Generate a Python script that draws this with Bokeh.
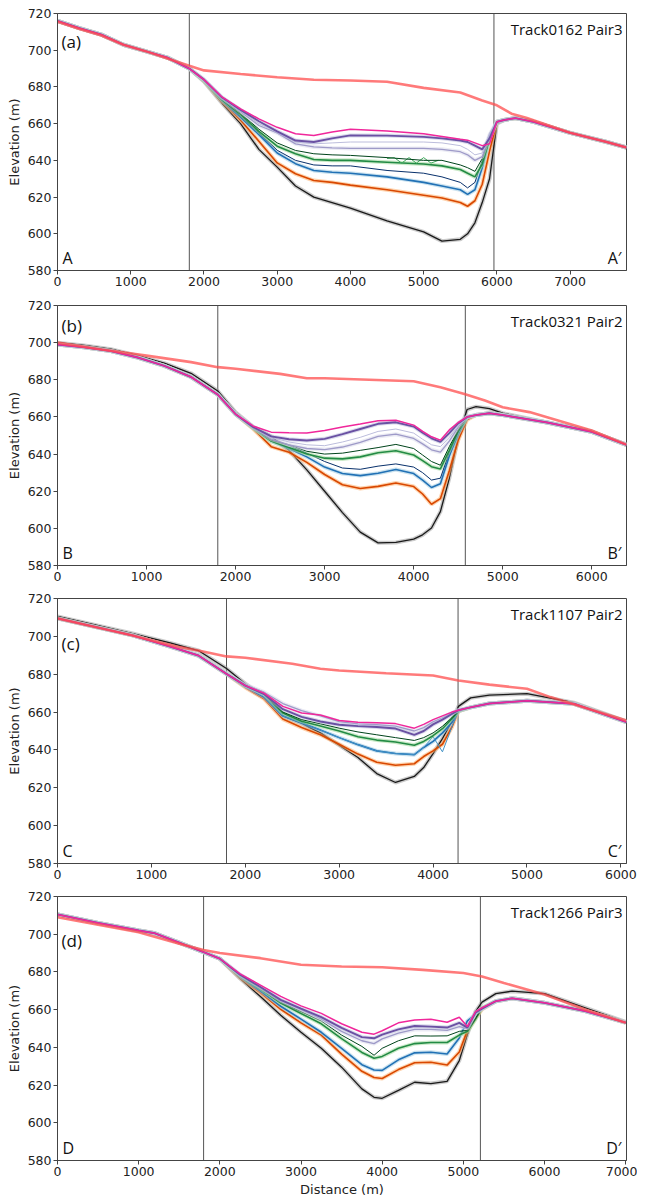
from bokeh.plotting import figure
from bokeh.layouts import column
from bokeh.models import Label, Span, FixedTicker, Range1d
from bokeh.embed import file_html
from bokeh.resources import INLINE

# ---------------- DATA ----------------
Y_TICKS = [580, 600, 620, 640, 660, 680, 700, 720]

# Panel (a) Track0162 Pair3
A_TITLE = "Track0162 Pair3"
A_XEND = 7770
A_XTICKS = [0, 1000, 2000, 3000, 4000, 5000, 6000, 7000]
A_VLINES = [1800, 5960]
A_LEFT_X = [0, 300, 600, 900, 1200, 1500, 1800]
A_LEFT_Y = [716, 712, 708.5, 703, 699.5, 696, 690]
A_VAL_X = [2000, 2250, 2500, 2750, 3000, 3250, 3500, 3750, 4000, 4500, 5000, 5250, 5500, 5600, 5700, 5800, 5900, 6000]
A_BLACK = [683, 671, 660, 646, 636.3, 626, 620, 617, 614, 607, 601, 596, 597, 600, 606, 617, 630, 660]
A_ORANGE = [683.5, 672, 662, 650.4, 638.6, 632.7, 629, 628, 626.5, 624, 621, 619.5, 617, 615, 618, 627, 645, 661]
A_BLUE = [683.5, 672.5, 663.5, 654, 644, 638.2, 634.5, 633.5, 633, 631, 628, 626, 624, 621.5, 624, 636, 652, 661]
A_NAVY = [683.5, 673, 664, 655, 645.5, 640, 637.5, 637, 637, 634.5, 633, 631, 628, 625, 628, 640, 654, 661]
A_GREEN = [683.5, 673, 665, 655.8, 647.7, 643.6, 640.5, 640, 640, 639, 638, 637, 635, 633, 631, 638, 652, 661]
A_DKGREEN = [683.5, 673.5, 665.5, 657, 649.5, 645.4, 643.6, 643, 642.7, 641.5, 640, 640, 637.5, 636, 634, 641, 653, 661]
A_LAV = [684, 674, 666.5, 659, 655, 649, 647.3, 646.8, 646.5, 646.5, 646.5, 646, 644.7, 643, 640, 642, 654, 661]
A_LAV2 = [684, 674, 667, 660, 655.5, 650, 649, 649.5, 650, 650, 650, 649.5, 648, 646, 643, 644, 655, 661]
A_PURPLE = [684, 674.2, 667.5, 661.3, 655.8, 650.8, 650, 652, 653.6, 653.5, 652.8, 652, 650.8, 650, 648, 646, 652, 661]
A_MAGENTA = [684, 674.4, 668, 662.6, 658, 654.5, 653.6, 655.5, 657, 656, 654.5, 653, 651.5, 651, 649.5, 648, 649, 661]
A_RIGHT_X = [6100, 6250, 6500, 7000, 7500, 7770]
A_RIGHT_Y = [662, 663, 661, 655, 650, 647]
A_ZIG_X = [4500, 4600, 4700, 4800, 4900, 5000, 5100, 5200]
A_ZIG_Y = [641, 641.5, 638.5, 641.5, 638.5, 641.5, 638.5, 640]
A_RED_X = [0, 300, 600, 900, 1200, 1500, 1800, 2000, 2500, 3000, 3500, 4000, 4500, 5000, 5500, 5800, 6000, 6200, 6400, 7000, 7500, 7770]
A_RED_Y = [715.5, 711.5, 708, 703, 699.5, 695.5, 691.5, 689, 687, 685.3, 683.9, 683.5, 682.8, 679.5, 677, 672.6, 670, 665.4, 663.2, 655, 650, 647]

# Panel (b) Track0321 Pair2
B_TITLE = "Track0321 Pair2"
B_XEND = 6390
B_XTICKS = [0, 1000, 2000, 3000, 4000, 5000, 6000]
B_VLINES = [1800, 4580]
B_LEFT_X = [0, 300, 600, 900, 1200, 1500, 1800]
B_LEFT_Y = [699, 697.5, 695.5, 692, 687.5, 681.5, 672]
B_LEFT_BLACK_Y = [700, 698.5, 696.5, 693, 689, 683.5, 674]
B_VAL_X = [2000, 2200, 2400, 2600, 2800, 3000, 3200, 3400, 3600, 3800, 4000, 4100, 4200, 4300, 4400, 4500, 4600]
B_BLACK = [662.5, 654.5, 649.5, 642, 631.5, 620, 608.5, 598, 592.2, 592.4, 594.2, 596.5, 600.2, 609, 627, 649, 664]
B_ORANGE = [661.5, 653.5, 644, 641, 635.5, 629, 623.5, 621.5, 622.6, 624.4, 622.5, 618.5, 613, 616, 631, 647.5, 658.5]
B_BLUE = [661.5, 654, 647, 643, 638.5, 633, 629.5, 628.4, 629.7, 631.7, 629.5, 626, 622, 624, 639, 651, 659.5]
B_NAVY = [661.5, 654, 647.5, 644.5, 640.5, 636, 632.5, 631.8, 633.5, 634.7, 633, 630, 626, 627, 641, 652, 659.5]
B_GREEN = [661.5, 654, 647, 643.5, 640, 637.8, 637.4, 638.5, 640.7, 641.8, 639.5, 636.5, 633.2, 632, 642, 652.5, 659.8]
B_DKGREEN = [661.5, 654, 647.5, 645, 641.5, 640, 640.5, 642, 643.5, 645.2, 643, 639.5, 636, 634, 644, 653, 660]
B_LAV = [661.5, 654.5, 648, 645, 643, 642.4, 643.8, 646.3, 649.5, 650.7, 648.4, 645.5, 642.3, 641, 647, 654.5, 660]
B_LAV2 = [661.5, 654.5, 649, 646.5, 645, 644.5, 646.5, 649, 652.2, 653.5, 651.3, 648, 645, 644, 649, 655, 660]
B_PURPLE = [661.5, 654.5, 649.5, 648, 647.3, 648.2, 650.7, 653.5, 656.3, 657.1, 654.8, 651.5, 648.5, 646.6, 651.3, 656.5, 660]
B_MAGENTA = [661.5, 655, 651.8, 651.5, 651.3, 652.7, 654.6, 656.2, 658, 658.2, 655.6, 652.2, 649.3, 647.5, 653, 657, 660]
B_RIGHT_X = [4700, 4850, 5000, 5500, 6000, 6390]
B_RIGHT_Y = [661, 662, 661, 657, 652, 645]
B_RIGHT_BLACK_Y = [665.5, 664.5, 662, 657, 652, 645]
B_RED_X = [0, 500, 1000, 1500, 1800, 2000, 2500, 2800, 3000, 3500, 4000, 4300, 4570, 4800, 5000, 5300, 6000, 6390]
B_RED_Y = [700, 696.3, 693, 689.5, 686.8, 685.9, 683.2, 680.8, 680.8, 680, 679.2, 676, 672.4, 668.8, 665.2, 662.6, 652.7, 645.1]

# Panel (c) Track1107 Pair2
C_TITLE = "Track1107 Pair2"
C_XEND = 6060
C_XTICKS = [0, 1000, 2000, 3000, 4000, 5000, 6000]
C_VLINES = [1800, 4266]
C_LEFT_X = [0, 400, 800, 1200, 1500, 1800]
C_LEFT_Y = [709.5, 705, 700.5, 694.6, 689.9, 680.2]
C_LEFT_BLACK_Y = [710.5, 706, 701.5, 696.5, 692.5, 683]
C_VAL_X = [2000, 2200, 2400, 2600, 2800, 3000, 3200, 3400, 3600, 3800, 3900, 4000, 4100, 4200, 4270]
C_BLACK = [675, 668, 657.8, 654, 649, 642.5, 636, 627.5, 622.8, 626, 630.7, 638, 646, 655, 663]
C_ORANGE = [673, 667, 656.3, 651.8, 648, 643, 637.8, 633.5, 631.9, 632.7, 636.5, 639.5, 643, 652, 660.5]
C_BLUE = [673.5, 668, 658, 654.3, 650.5, 646.5, 642.8, 639.5, 638.1, 637.5, 641.3, 644.5, 649, 654.5, 660.5]
C_BLUE2 = [673.5, 668, 658, 654.3, 650.5, 646.5, 642.8, 639.5, 638.1, 637.5, 641.3, 647, 639, 652, 660.8]
C_GREEN = [674, 669.5, 659.5, 655.2, 652.6, 650, 647, 645.2, 644.2, 642.5, 644.5, 647.5, 651.2, 656.5, 660.5]
C_DKGREEN = [674, 669.5, 660, 656, 653.8, 651.5, 649.5, 648, 646.5, 645, 646.5, 649, 652.5, 657, 660.5]
C_PURPLE = [674, 669.5, 661.5, 657.5, 655, 653.3, 652.6, 652.1, 651.3, 648, 650, 653.5, 656, 659, 661]
C_LAV = [674.5, 670.5, 664.5, 660.8, 658, 655, 653.8, 653.3, 652.6, 650, 651.8, 654.8, 657, 659.5, 661]
C_MAGENTA = [674, 670, 663, 659.5, 658.5, 655.5, 654.6, 654.3, 653.9, 651.5, 653.5, 656, 658, 660, 661]
C_RIGHT_X = [4400, 4600, 5000, 5500, 6060]
C_RIGHT_Y = [662.5, 664.5, 666, 664.4, 654.7]
C_RIGHT_BLACK_Y = [667.5, 669, 669.7, 665, 655]
C_RED_X = [0, 400, 800, 1300, 1500, 1800, 2000, 2500, 2800, 3000, 3500, 4000, 4270, 4600, 5000, 5250, 5600, 6060]
C_RED_Y = [709.5, 705, 700.5, 694.3, 692.5, 689.4, 688.7, 685.5, 682.9, 682, 680.5, 679.3, 676.7, 674.5, 672.3, 667.9, 662.6, 655.6]

# Panel (d) Track1266 Pair3
D_TITLE = "Track1266 Pair3"
D_XEND = 7010
D_XTICKS = [0, 1000, 2000, 3000, 4000, 5000, 6000, 7000]
D_VLINES = [1800, 5210]
D_LEFT_X = [0, 500, 1000, 1200, 1500, 1800, 2000]
D_LEFT_Y = [710.5, 706, 702, 700.5, 695.5, 690.5, 687]
D_VAL_X = [2250, 2500, 2750, 3000, 3250, 3500, 3750, 3900, 4000, 4200, 4400, 4600, 4800, 4950, 5050, 5150, 5230]
D_BLACK = [676.5, 667, 657, 648, 639.5, 629.5, 618, 613.5, 613, 617.2, 621.5, 620.8, 622, 633, 647, 659, 664]
D_ORANGE = [677, 669, 660.2, 653, 646.5, 636.4, 627.3, 624, 623.5, 628.2, 631.8, 632.1, 630.6, 637.5, 649, 655.5, 660.2]
D_BLUE = [677.5, 670, 661.8, 655, 648, 639.5, 630.8, 628, 627.8, 633.4, 637.1, 637.4, 636.5, 645, 654, 657.5, 660.5]
D_GREEN = [678, 671, 663.5, 658, 652.5, 644.6, 637.3, 634.2, 635.2, 639.5, 642, 642.6, 642.6, 646.5, 648.5, 655, 661]
D_DKGREEN = [678, 671.5, 664, 659, 654, 646.5, 640.5, 635.8, 639.5, 643.5, 646.1, 646, 646.1, 648.5, 649, 655.5, 661]
D_LAV = [678.5, 671.8, 664.8, 660, 655, 648.5, 643.5, 642, 644.5, 647.5, 649.5, 649.5, 649, 651, 650, 658, 660.5]
D_PURPLE = [678.5, 672, 665.2, 660.5, 656, 650.3, 645.4, 644.8, 646.8, 649.5, 651.3, 651, 650.5, 653, 650.5, 658.5, 660.5]
D_MAGENTA = [679, 673, 667, 662, 658, 652.5, 648, 647, 648.8, 653, 654.5, 654.9, 653.3, 656, 651, 659, 661]
D_RIGHT_X = [5400, 5600, 6000, 6500, 7000]
D_RIGHT_Y = [664.5, 666, 663.6, 659.3, 653.1]
D_RIGHT_BLACK_Y = [668.5, 669.8, 668.5, 661, 653.5]
D_RED_X = [0, 500, 1000, 1500, 1800, 2000, 2500, 3000, 3500, 4000, 4500, 5000, 5230, 5500, 6000, 6500, 7000]
D_RED_Y = [709, 705, 701, 695, 691.6, 690, 687.3, 683.8, 682.9, 682.5, 681.1, 679.4, 677.6, 674.1, 668, 660.1, 653.1]

# ---------------- STYLE ----------------
STYLE = {
    "black":   ("#1a1a1a", "#a0a0a0", 1.3),
    "orange":  ("#d94801", "#fdae6b", 1.6),
    "blue":    ("#2171b5", "#9ecae1", 1.6),
    "navy":    ("#08306b", None, 1.0),
    "blue2":   ("#4292c6", None, 1.0),
    "green":   ("#238b45", "#a1d99b", 1.6),
    "dkgreen": ("#00441b", None, 1.0),
    "lav":     ("#9e9ac8", "#dadaeb", 1.3),
    "lav2":    ("#bcbddc", None, 1.0),
    "purple":  ("#6a51a3", "#bcbddc", 1.9),
    "magenta": ("#f0279b", None, 1.5),
}
ORDER = ["black", "orange", "blue", "navy", "blue2", "green", "dkgreen", "lav", "lav2", "purple", "magenta"]

PANELS = [
    dict(tag="(a)", ends=("A", "A\u2032"), title=A_TITLE, xend=A_XEND, xticks=A_XTICKS, vlines=A_VLINES,
         lx=A_LEFT_X, ly=A_LEFT_Y, lby=A_LEFT_Y, vx=A_VAL_X, rx=A_RIGHT_X, ry=A_RIGHT_Y, rby=A_RIGHT_Y,
         series=dict(black=A_BLACK, orange=A_ORANGE, blue=A_BLUE, navy=A_NAVY, green=A_GREEN,
                     dkgreen=A_DKGREEN, lav=A_LAV, lav2=A_LAV2, purple=A_PURPLE, magenta=A_MAGENTA),
         redx=A_RED_X, redy=A_RED_Y, zig=(A_ZIG_X, A_ZIG_Y), tag_y=704.7,
         height=298, top=13, bottom=28),
    dict(tag="(b)", ends=("B", "B\u2032"), title=B_TITLE, xend=B_XEND, xticks=B_XTICKS, vlines=B_VLINES,
         lx=B_LEFT_X, ly=B_LEFT_Y, lby=B_LEFT_BLACK_Y, vx=B_VAL_X, rx=B_RIGHT_X, ry=B_RIGHT_Y, rby=B_RIGHT_BLACK_Y,
         series=dict(black=B_BLACK, orange=B_ORANGE, blue=B_BLUE, navy=B_NAVY, green=B_GREEN,
                     dkgreen=B_DKGREEN, lav=B_LAV, lav2=B_LAV2, purple=B_PURPLE, magenta=B_MAGENTA),
         redx=B_RED_X, redy=B_RED_Y, zig=None, tag_y=709.2,
         height=293, top=7, bottom=26),
    dict(tag="(c)", ends=("C", "C\u2032"), title=C_TITLE, xend=C_XEND, xticks=C_XTICKS, vlines=C_VLINES,
         lx=C_LEFT_X, ly=C_LEFT_Y, lby=C_LEFT_BLACK_Y, vx=C_VAL_X, rx=C_RIGHT_X, ry=C_RIGHT_Y, rby=C_RIGHT_BLACK_Y,
         series=dict(black=C_BLACK, orange=C_ORANGE, blue=C_BLUE, blue2=C_BLUE2, green=C_GREEN,
                     dkgreen=C_DKGREEN, lav=C_LAV, purple=C_PURPLE, magenta=C_MAGENTA),
         redx=C_RED_X, redy=C_RED_Y, zig=None, tag_y=696.2,
         height=299, top=7, bottom=27),
    dict(tag="(d)", ends=("D", "D\u2032"), title=D_TITLE, xend=D_XEND, xticks=D_XTICKS, vlines=D_VLINES,
         lx=D_LEFT_X, ly=D_LEFT_Y, lby=D_LEFT_Y, vx=D_VAL_X, rx=D_RIGHT_X, ry=D_RIGHT_Y, rby=D_RIGHT_BLACK_Y,
         series=dict(black=D_BLACK, orange=D_ORANGE, blue=D_BLUE, green=D_GREEN,
                     dkgreen=D_DKGREEN, lav=D_LAV, purple=D_PURPLE, magenta=D_MAGENTA),
         redx=D_RED_X, redy=D_RED_Y, zig=None, tag_y=696.6,
         height=309, top=6, bottom=36),
]

ANNOT_FONT = "Open Sans"
TICK_FONT = "DejaVu Sans"

figs = []
for i, P in enumerate(PANELS):
    last = i == len(PANELS) - 1
    p = figure(width=637, height=P["height"], output_backend="svg", toolbar_location=None,
               x_range=Range1d(0, P["xend"]), y_range=Range1d(580, 720),
               min_border_left=57, min_border_right=11, min_border_top=P["top"],
               min_border_bottom=P["bottom"])
    p.xgrid.visible = False
    p.ygrid.visible = False
    p.outline_line_color = "#444444"
    p.outline_line_width = 1
    p.background_fill_color = "white"
    p.border_fill_color = "white"
    for ax in (p.xaxis[0], p.yaxis[0]):
        ax.axis_line_color = "#444444"
        ax.major_tick_line_color = "#444444"
        ax.major_tick_out = 4
        ax.major_tick_in = 0
        ax.minor_tick_line_color = None
        ax.major_label_text_font = TICK_FONT
        ax.major_label_text_font_size = "12.5px"
        ax.major_label_text_color = "#222222"
        ax.major_label_standoff = 2
        ax.axis_label_text_font = TICK_FONT
        ax.axis_label_text_font_size = "13px"
        ax.axis_label_text_font_style = "normal"
        ax.axis_label_text_color = "#222222"
        ax.axis_label_standoff = 3
    p.xaxis.ticker = FixedTicker(ticks=P["xticks"])
    p.yaxis.ticker = FixedTicker(ticks=Y_TICKS)
    p.yaxis.axis_label = "Elevation (m)"
    if last:
        p.xaxis.axis_label = "Distance (m)"

    for loc in P["vlines"]:
        p.add_layout(Span(location=loc, dimension="height", line_color="#555555",
                          line_width=1, level="underlay"))

    for name in ORDER:
        if name not in P["series"]:
            continue
        col, halo, lw = STYLE[name]
        left_y = P["lby"] if name == "black" else P["ly"]
        right_y = P["rby"] if name == "black" else P["ry"]
        xs = P["lx"] + P["vx"] + P["rx"]
        ys = left_y + P["series"][name] + right_y
        if halo:
            p.line(xs, ys, line_color=halo, line_width=4, line_alpha=0.55)
        p.line(xs, ys, line_color=col, line_width=lw)
        if name == "green" and P["zig"]:
            p.line(P["zig"][0], P["zig"][1], line_color="#41ab5d", line_width=1.0)

    p.line(P["redx"], P["redy"], line_color="#ff4d4d", line_width=2.6, line_alpha=0.75)

    p.add_layout(Label(x=0, y=P["tag_y"], x_offset=4, text=P["tag"], text_font=ANNOT_FONT,
                       text_font_size="17px", text_baseline="middle", text_color="#111111"))
    p.add_layout(Label(x=0, y=580, x_offset=5, y_offset=2, text=P["ends"][0], text_font=ANNOT_FONT,
                       text_font_size="16px", text_baseline="bottom", text_color="#111111"))
    p.add_layout(Label(x=P["xend"], y=580, x_offset=-5, y_offset=2, text=P["ends"][1],
                       text_font=ANNOT_FONT, text_font_size="16px", text_align="right",
                       text_baseline="bottom", text_color="#111111"))
    p.add_layout(Label(x=P["xend"], y=720, x_offset=-4, y_offset=-5, text=P["title"],
                       text_font=ANNOT_FONT, text_font_size="15px", text_align="right",
                       text_baseline="top", text_color="#111111"))
    figs.append(p)

layout = column(*figs, spacing=0)
open("out.html", "w").write(file_html(layout, INLINE))
